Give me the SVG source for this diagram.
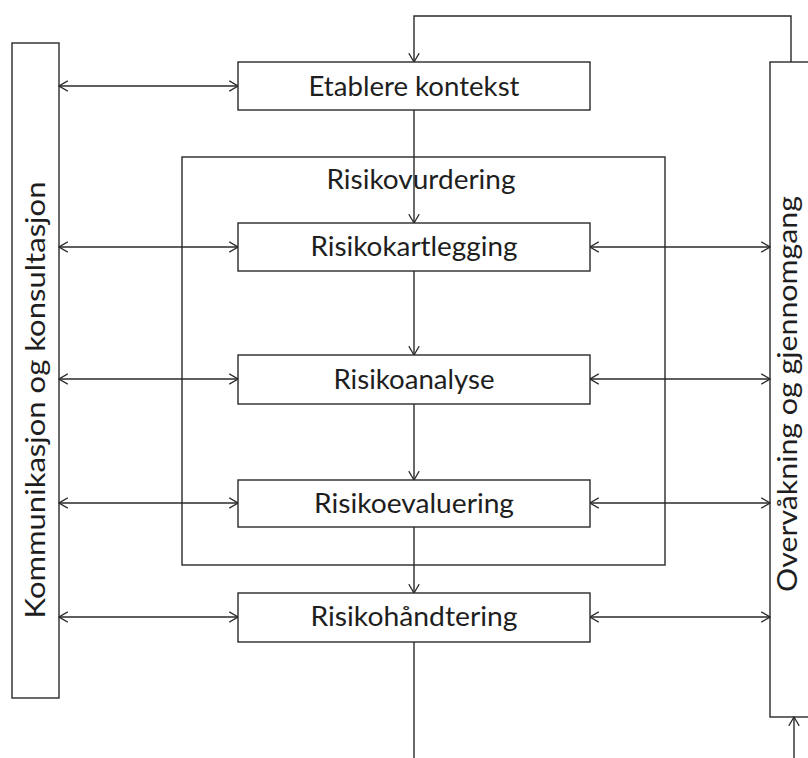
<svg xmlns="http://www.w3.org/2000/svg" width="808" height="758" viewBox="0 0 808 758">
<defs>
<marker id="ah" viewBox="0 0 10 12" refX="9.3" refY="6" markerWidth="10" markerHeight="12" markerUnits="userSpaceOnUse" orient="auto-start-reverse">
<path d="M0.5,0.8 L9.3,6 L0.5,11.2" fill="none" stroke="#2a2a2a" stroke-width="1.3"/>
</marker>
<style>
.box{fill:#fff;stroke:#2a2a2a;stroke-width:1.4}
.frame{fill:none;stroke:#2a2a2a;stroke-width:1.4}
.lbl{font-family:Lato,"Liberation Sans",Arial,sans-serif;font-size:26px;fill:#1e1e1e;text-anchor:middle}
.ln{fill:none;stroke:#2a2a2a;stroke-width:1.4}
.bi{marker-start:url(#ah);marker-end:url(#ah)}
.one{marker-end:url(#ah)}
</style>
</defs>
<rect width="808" height="758" fill="#fff"/>

<g id="risikovurdering">
<rect class="frame" x="182" y="157" width="483" height="408"/>
<text class="lbl" x="421" y="189" textLength="189" lengthAdjust="spacingAndGlyphs">Risikovurdering</text>
</g>

<g id="kommunikasjon">
<rect class="box" x="12" y="43" width="47" height="655"/>
<text class="lbl" transform="translate(45,400) rotate(-90)" textLength="437" lengthAdjust="spacingAndGlyphs">Kommunikasjon og konsultasjon</text>
</g>

<g id="overvakning">
<rect class="box" x="770" y="62" width="60" height="655"/>
<text class="lbl" transform="translate(797,394) rotate(-90)" textLength="396" lengthAdjust="spacingAndGlyphs">Overvåkning og gjennomgang</text>
</g>

<g id="connectors">
<path class="ln one" d="M791,62 V16 H414 V62"/>
<path class="ln one" d="M414,110 V223"/>
<path class="ln one" d="M414,271 V355"/>
<path class="ln one" d="M414,404 V480"/>
<path class="ln one" d="M414,527 V593"/>
<path class="ln" d="M414,642 V758"/>
<path class="ln one" d="M794,758 V717"/>
<path class="ln bi" d="M59,86 H238"/>
<path class="ln bi" d="M59,247 H238"/>
<path class="ln bi" d="M59,379 H238"/>
<path class="ln bi" d="M59,503 H238"/>
<path class="ln bi" d="M59,617 H238"/>
<path class="ln bi" d="M590,247 H770"/>
<path class="ln bi" d="M590,379 H770"/>
<path class="ln bi" d="M590,503 H770"/>
<path class="ln bi" d="M590,617 H770"/>
</g>

<g id="etablere">
<rect class="box" x="238" y="62" width="352" height="48"/>
<text class="lbl" x="414" y="96" textLength="211" lengthAdjust="spacingAndGlyphs">Etablere kontekst</text>
</g>
<g id="kartlegging">
<rect class="box" x="238" y="223" width="352" height="48"/>
<text class="lbl" x="414" y="256" textLength="207" lengthAdjust="spacingAndGlyphs">Risikokartlegging</text>
</g>
<g id="analyse">
<rect class="box" x="238" y="355" width="352" height="49"/>
<text class="lbl" x="414" y="389" textLength="161" lengthAdjust="spacingAndGlyphs">Risikoanalyse</text>
</g>
<g id="evaluering">
<rect class="box" x="238" y="480" width="352" height="47"/>
<text class="lbl" x="414" y="513" textLength="200" lengthAdjust="spacingAndGlyphs">Risikoevaluering</text>
</g>
<g id="handtering">
<rect class="box" x="238" y="593" width="352" height="49"/>
<text class="lbl" x="414" y="626" textLength="207" lengthAdjust="spacingAndGlyphs">Risikohåndtering</text>
</g>
</svg>
